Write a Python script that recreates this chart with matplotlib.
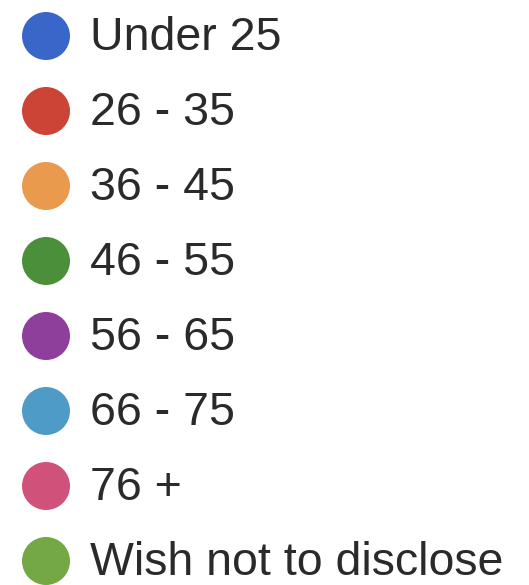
import matplotlib.pyplot as plt
from matplotlib.patches import Circle

# Legend entries (age groups) and their colours
labels = ['Under 25', '26 - 35', '36 - 45', '46 - 55',
          '56 - 65', '66 - 75', '76 +', 'Wish not to disclose']
colors = ['#3b66c9', '#cc4435', '#e99a4d', '#4c8f3b',
          '#8e3e9b', '#4e9bc8', '#d0527a', '#73a845']

# Figure in pixel units (529 x 585)
fig = plt.figure(figsize=(5.29, 5.85), dpi=100)
ax = fig.add_axes([0, 0, 1, 1])
ax.set_xlim(0, 529)
ax.set_ylim(585, 0)
ax.set_aspect('equal')
ax.axis('off')

row_gap = 75
first_row = 36
for i, (lab, col) in enumerate(zip(labels, colors)):
    y = first_row + i * row_gap
    ax.add_patch(Circle((46, y), 24, color=col, lw=0))
    ax.text(90, y + 2, lab, fontsize=33.5, family='Liberation Sans',
            color='#2a2a2a', va='center', ha='left')

fig.savefig('out.png', dpi=100)
